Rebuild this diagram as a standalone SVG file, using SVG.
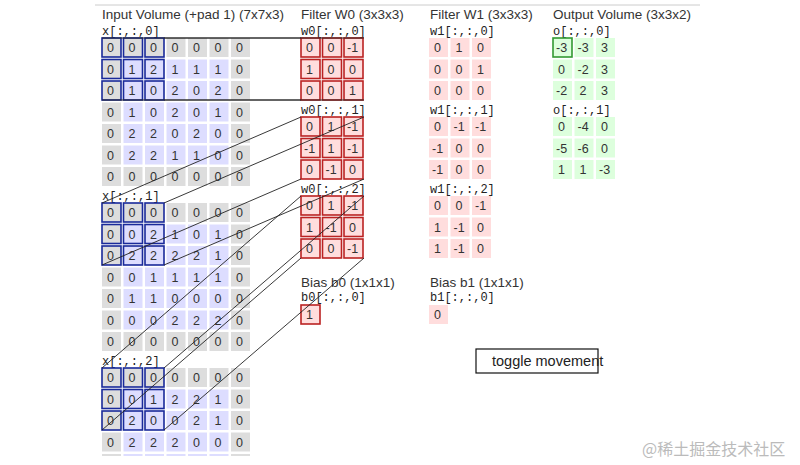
<svg xmlns="http://www.w3.org/2000/svg" width="800" height="465" viewBox="0 0 800 465">
<style>
text{font-family:"Liberation Sans",Arial,sans-serif;fill:#333}
.t{font-size:13.5px}
.n{font-size:12.5px}
.m{font-family:"Liberation Mono","Courier New",monospace;font-size:12px;fill:#222}
.g{fill:#ddd}.b{fill:#ddf}.r{fill:#fdd}.gr{fill:#dfd}
.wb{fill:none;stroke:#1a2a9a;stroke-width:1.6}
.wr{fill:none;stroke:#b22;stroke-width:1.6}
.wg{fill:none;stroke:#393;stroke-width:1.6}
.ln{stroke:#222;stroke-width:0.9;fill:none}
</style>
<rect width="800" height="465" fill="#fff"/>
<line x1="95" y1="5" x2="700" y2="5" stroke="#ccc" stroke-width="1"/>
<text class="t" x="102" y="19">Input Volume (+pad 1) (7x7x3)</text>
<text class="t" x="301" y="19">Filter W0 (3x3x3)</text>
<text class="t" x="430" y="19">Filter W1 (3x3x3)</text>
<text class="t" x="553" y="19">Output Volume (3x3x2)</text>

<g id="x0" transform="translate(102,38)">
<text class="m" x="0" y="-3">x[:,:,0]</text>
<g>
<rect class="g" x="0" y="0" width="19" height="19"/><rect class="g" x="21.5" y="0" width="19" height="19"/><rect class="g" x="43" y="0" width="19" height="19"/><rect class="g" x="64.5" y="0" width="19" height="19"/><rect class="g" x="86" y="0" width="19" height="19"/><rect class="g" x="107.5" y="0" width="19" height="19"/><rect class="g" x="129" y="0" width="19" height="19"/>
<rect class="g" x="0" y="21.5" width="19" height="19"/><rect class="b" x="21.5" y="21.5" width="19" height="19"/><rect class="b" x="43" y="21.5" width="19" height="19"/><rect class="b" x="64.5" y="21.5" width="19" height="19"/><rect class="b" x="86" y="21.5" width="19" height="19"/><rect class="b" x="107.5" y="21.5" width="19" height="19"/><rect class="g" x="129" y="21.5" width="19" height="19"/>
<rect class="g" x="0" y="43" width="19" height="19"/><rect class="b" x="21.5" y="43" width="19" height="19"/><rect class="b" x="43" y="43" width="19" height="19"/><rect class="b" x="64.5" y="43" width="19" height="19"/><rect class="b" x="86" y="43" width="19" height="19"/><rect class="b" x="107.5" y="43" width="19" height="19"/><rect class="g" x="129" y="43" width="19" height="19"/>
<rect class="g" x="0" y="64.5" width="19" height="19"/><rect class="b" x="21.5" y="64.5" width="19" height="19"/><rect class="b" x="43" y="64.5" width="19" height="19"/><rect class="b" x="64.5" y="64.5" width="19" height="19"/><rect class="b" x="86" y="64.5" width="19" height="19"/><rect class="b" x="107.5" y="64.5" width="19" height="19"/><rect class="g" x="129" y="64.5" width="19" height="19"/>
<rect class="g" x="0" y="86" width="19" height="19"/><rect class="b" x="21.5" y="86" width="19" height="19"/><rect class="b" x="43" y="86" width="19" height="19"/><rect class="b" x="64.5" y="86" width="19" height="19"/><rect class="b" x="86" y="86" width="19" height="19"/><rect class="b" x="107.5" y="86" width="19" height="19"/><rect class="g" x="129" y="86" width="19" height="19"/>
<rect class="g" x="0" y="107.5" width="19" height="19"/><rect class="b" x="21.5" y="107.5" width="19" height="19"/><rect class="b" x="43" y="107.5" width="19" height="19"/><rect class="b" x="64.5" y="107.5" width="19" height="19"/><rect class="b" x="86" y="107.5" width="19" height="19"/><rect class="b" x="107.5" y="107.5" width="19" height="19"/><rect class="g" x="129" y="107.5" width="19" height="19"/>
<rect class="g" x="0" y="129" width="19" height="19"/><rect class="g" x="21.5" y="129" width="19" height="19"/><rect class="g" x="43" y="129" width="19" height="19"/><rect class="g" x="64.5" y="129" width="19" height="19"/><rect class="g" x="86" y="129" width="19" height="19"/><rect class="g" x="107.5" y="129" width="19" height="19"/><rect class="g" x="129" y="129" width="19" height="19"/>
</g>
<text class="n" x="5" y="14">0</text><text class="n" x="26.5" y="14">0</text><text class="n" x="48" y="14">0</text><text class="n" x="69.5" y="14">0</text><text class="n" x="91" y="14">0</text><text class="n" x="112.5" y="14">0</text><text class="n" x="134" y="14">0</text>
<text class="n" x="5" y="35.5">0</text><text class="n" x="26.5" y="35.5">1</text><text class="n" x="48" y="35.5">2</text><text class="n" x="69.5" y="35.5">1</text><text class="n" x="91" y="35.5">1</text><text class="n" x="112.5" y="35.5">1</text><text class="n" x="134" y="35.5">0</text>
<text class="n" x="5" y="57">0</text><text class="n" x="26.5" y="57">1</text><text class="n" x="48" y="57">0</text><text class="n" x="69.5" y="57">2</text><text class="n" x="91" y="57">0</text><text class="n" x="112.5" y="57">2</text><text class="n" x="134" y="57">0</text>
<text class="n" x="5" y="78.5">0</text><text class="n" x="26.5" y="78.5">1</text><text class="n" x="48" y="78.5">0</text><text class="n" x="69.5" y="78.5">2</text><text class="n" x="91" y="78.5">0</text><text class="n" x="112.5" y="78.5">1</text><text class="n" x="134" y="78.5">0</text>
<text class="n" x="5" y="100">0</text><text class="n" x="26.5" y="100">2</text><text class="n" x="48" y="100">2</text><text class="n" x="69.5" y="100">0</text><text class="n" x="91" y="100">2</text><text class="n" x="112.5" y="100">0</text><text class="n" x="134" y="100">0</text>
<text class="n" x="5" y="121.5">0</text><text class="n" x="26.5" y="121.5">2</text><text class="n" x="48" y="121.5">2</text><text class="n" x="69.5" y="121.5">1</text><text class="n" x="91" y="121.5">1</text><text class="n" x="112.5" y="121.5">0</text><text class="n" x="134" y="121.5">0</text>
<text class="n" x="5" y="143">0</text><text class="n" x="26.5" y="143">0</text><text class="n" x="48" y="143">0</text><text class="n" x="69.5" y="143">0</text><text class="n" x="91" y="143">0</text><text class="n" x="112.5" y="143">0</text><text class="n" x="134" y="143">0</text>
<g class="wb"><rect x="0" y="0" width="19" height="19"/><rect x="21.5" y="0" width="19" height="19"/><rect x="43" y="0" width="19" height="19"/><rect x="0" y="21.5" width="19" height="19"/><rect x="21.5" y="21.5" width="19" height="19"/><rect x="43" y="21.5" width="19" height="19"/><rect x="0" y="43" width="19" height="19"/><rect x="21.5" y="43" width="19" height="19"/><rect x="43" y="43" width="19" height="19"/></g>
</g>

<g id="x1" transform="translate(102,203)">
<text class="m" x="0" y="-3">x[:,:,1]</text>
<g>
<rect class="g" x="0" y="0" width="19" height="19"/><rect class="g" x="21.5" y="0" width="19" height="19"/><rect class="g" x="43" y="0" width="19" height="19"/><rect class="g" x="64.5" y="0" width="19" height="19"/><rect class="g" x="86" y="0" width="19" height="19"/><rect class="g" x="107.5" y="0" width="19" height="19"/><rect class="g" x="129" y="0" width="19" height="19"/>
<rect class="g" x="0" y="21.5" width="19" height="19"/><rect class="b" x="21.5" y="21.5" width="19" height="19"/><rect class="b" x="43" y="21.5" width="19" height="19"/><rect class="b" x="64.5" y="21.5" width="19" height="19"/><rect class="b" x="86" y="21.5" width="19" height="19"/><rect class="b" x="107.5" y="21.5" width="19" height="19"/><rect class="g" x="129" y="21.5" width="19" height="19"/>
<rect class="g" x="0" y="43" width="19" height="19"/><rect class="b" x="21.5" y="43" width="19" height="19"/><rect class="b" x="43" y="43" width="19" height="19"/><rect class="b" x="64.5" y="43" width="19" height="19"/><rect class="b" x="86" y="43" width="19" height="19"/><rect class="b" x="107.5" y="43" width="19" height="19"/><rect class="g" x="129" y="43" width="19" height="19"/>
<rect class="g" x="0" y="64.5" width="19" height="19"/><rect class="b" x="21.5" y="64.5" width="19" height="19"/><rect class="b" x="43" y="64.5" width="19" height="19"/><rect class="b" x="64.5" y="64.5" width="19" height="19"/><rect class="b" x="86" y="64.5" width="19" height="19"/><rect class="b" x="107.5" y="64.5" width="19" height="19"/><rect class="g" x="129" y="64.5" width="19" height="19"/>
<rect class="g" x="0" y="86" width="19" height="19"/><rect class="b" x="21.5" y="86" width="19" height="19"/><rect class="b" x="43" y="86" width="19" height="19"/><rect class="b" x="64.5" y="86" width="19" height="19"/><rect class="b" x="86" y="86" width="19" height="19"/><rect class="b" x="107.5" y="86" width="19" height="19"/><rect class="g" x="129" y="86" width="19" height="19"/>
<rect class="g" x="0" y="107.5" width="19" height="19"/><rect class="b" x="21.5" y="107.5" width="19" height="19"/><rect class="b" x="43" y="107.5" width="19" height="19"/><rect class="b" x="64.5" y="107.5" width="19" height="19"/><rect class="b" x="86" y="107.5" width="19" height="19"/><rect class="b" x="107.5" y="107.5" width="19" height="19"/><rect class="g" x="129" y="107.5" width="19" height="19"/>
<rect class="g" x="0" y="129" width="19" height="19"/><rect class="g" x="21.5" y="129" width="19" height="19"/><rect class="g" x="43" y="129" width="19" height="19"/><rect class="g" x="64.5" y="129" width="19" height="19"/><rect class="g" x="86" y="129" width="19" height="19"/><rect class="g" x="107.5" y="129" width="19" height="19"/><rect class="g" x="129" y="129" width="19" height="19"/>
</g>
<text class="n" x="5" y="14">0</text><text class="n" x="26.5" y="14">0</text><text class="n" x="48" y="14">0</text><text class="n" x="69.5" y="14">0</text><text class="n" x="91" y="14">0</text><text class="n" x="112.5" y="14">0</text><text class="n" x="134" y="14">0</text>
<text class="n" x="5" y="35.5">0</text><text class="n" x="26.5" y="35.5">0</text><text class="n" x="48" y="35.5">2</text><text class="n" x="69.5" y="35.5">1</text><text class="n" x="91" y="35.5">0</text><text class="n" x="112.5" y="35.5">1</text><text class="n" x="134" y="35.5">0</text>
<text class="n" x="5" y="57">0</text><text class="n" x="26.5" y="57">2</text><text class="n" x="48" y="57">2</text><text class="n" x="69.5" y="57">2</text><text class="n" x="91" y="57">2</text><text class="n" x="112.5" y="57">1</text><text class="n" x="134" y="57">0</text>
<text class="n" x="5" y="78.5">0</text><text class="n" x="26.5" y="78.5">0</text><text class="n" x="48" y="78.5">1</text><text class="n" x="69.5" y="78.5">1</text><text class="n" x="91" y="78.5">1</text><text class="n" x="112.5" y="78.5">1</text><text class="n" x="134" y="78.5">0</text>
<text class="n" x="5" y="100">0</text><text class="n" x="26.5" y="100">1</text><text class="n" x="48" y="100">1</text><text class="n" x="69.5" y="100">0</text><text class="n" x="91" y="100">0</text><text class="n" x="112.5" y="100">0</text><text class="n" x="134" y="100">0</text>
<text class="n" x="5" y="121.5">0</text><text class="n" x="26.5" y="121.5">0</text><text class="n" x="48" y="121.5">0</text><text class="n" x="69.5" y="121.5">2</text><text class="n" x="91" y="121.5">2</text><text class="n" x="112.5" y="121.5">2</text><text class="n" x="134" y="121.5">0</text>
<text class="n" x="5" y="143">0</text><text class="n" x="26.5" y="143">0</text><text class="n" x="48" y="143">0</text><text class="n" x="69.5" y="143">0</text><text class="n" x="91" y="143">0</text><text class="n" x="112.5" y="143">0</text><text class="n" x="134" y="143">0</text>
<g class="wb"><rect x="0" y="0" width="19" height="19"/><rect x="21.5" y="0" width="19" height="19"/><rect x="43" y="0" width="19" height="19"/><rect x="0" y="21.5" width="19" height="19"/><rect x="21.5" y="21.5" width="19" height="19"/><rect x="43" y="21.5" width="19" height="19"/><rect x="0" y="43" width="19" height="19"/><rect x="21.5" y="43" width="19" height="19"/><rect x="43" y="43" width="19" height="19"/></g>
</g>

<g id="x2" transform="translate(102,368)">
<text class="m" x="0" y="-3">x[:,:,2]</text>
<g>
<rect class="g" x="0" y="0" width="19" height="19"/><rect class="g" x="21.5" y="0" width="19" height="19"/><rect class="g" x="43" y="0" width="19" height="19"/><rect class="g" x="64.5" y="0" width="19" height="19"/><rect class="g" x="86" y="0" width="19" height="19"/><rect class="g" x="107.5" y="0" width="19" height="19"/><rect class="g" x="129" y="0" width="19" height="19"/>
<rect class="g" x="0" y="21.5" width="19" height="19"/><rect class="b" x="21.5" y="21.5" width="19" height="19"/><rect class="b" x="43" y="21.5" width="19" height="19"/><rect class="b" x="64.5" y="21.5" width="19" height="19"/><rect class="b" x="86" y="21.5" width="19" height="19"/><rect class="b" x="107.5" y="21.5" width="19" height="19"/><rect class="g" x="129" y="21.5" width="19" height="19"/>
<rect class="g" x="0" y="43" width="19" height="19"/><rect class="b" x="21.5" y="43" width="19" height="19"/><rect class="b" x="43" y="43" width="19" height="19"/><rect class="b" x="64.5" y="43" width="19" height="19"/><rect class="b" x="86" y="43" width="19" height="19"/><rect class="b" x="107.5" y="43" width="19" height="19"/><rect class="g" x="129" y="43" width="19" height="19"/>
<rect class="g" x="0" y="64.5" width="19" height="19"/><rect class="b" x="21.5" y="64.5" width="19" height="19"/><rect class="b" x="43" y="64.5" width="19" height="19"/><rect class="b" x="64.5" y="64.5" width="19" height="19"/><rect class="b" x="86" y="64.5" width="19" height="19"/><rect class="b" x="107.5" y="64.5" width="19" height="19"/><rect class="g" x="129" y="64.5" width="19" height="19"/>
<rect class="g" x="0" y="86" width="19" height="2"/><rect class="b" x="21.5" y="86" width="19" height="2"/><rect class="b" x="43" y="86" width="19" height="2"/><rect class="b" x="64.5" y="86" width="19" height="2"/><rect class="b" x="86" y="86" width="19" height="2"/><rect class="b" x="107.5" y="86" width="19" height="2"/><rect class="g" x="129" y="86" width="19" height="2"/>
</g>
<text class="n" x="5" y="14">0</text><text class="n" x="26.5" y="14">0</text><text class="n" x="48" y="14">0</text><text class="n" x="69.5" y="14">0</text><text class="n" x="91" y="14">0</text><text class="n" x="112.5" y="14">0</text><text class="n" x="134" y="14">0</text>
<text class="n" x="5" y="35.5">0</text><text class="n" x="26.5" y="35.5">0</text><text class="n" x="48" y="35.5">1</text><text class="n" x="69.5" y="35.5">2</text><text class="n" x="91" y="35.5">2</text><text class="n" x="112.5" y="35.5">1</text><text class="n" x="134" y="35.5">0</text>
<text class="n" x="5" y="57">0</text><text class="n" x="26.5" y="57">2</text><text class="n" x="48" y="57">0</text><text class="n" x="69.5" y="57">0</text><text class="n" x="91" y="57">2</text><text class="n" x="112.5" y="57">1</text><text class="n" x="134" y="57">0</text>
<text class="n" x="5" y="78.5">0</text><text class="n" x="26.5" y="78.5">2</text><text class="n" x="48" y="78.5">2</text><text class="n" x="69.5" y="78.5">2</text><text class="n" x="91" y="78.5">0</text><text class="n" x="112.5" y="78.5">0</text><text class="n" x="134" y="78.5">0</text>
<g class="wb"><rect x="0" y="0" width="19" height="19"/><rect x="21.5" y="0" width="19" height="19"/><rect x="43" y="0" width="19" height="19"/><rect x="0" y="21.5" width="19" height="19"/><rect x="21.5" y="21.5" width="19" height="19"/><rect x="43" y="21.5" width="19" height="19"/><rect x="0" y="43" width="19" height="19"/><rect x="21.5" y="43" width="19" height="19"/><rect x="43" y="43" width="19" height="19"/></g>
</g>

<g id="w0">
<text class="m" x="301" y="35">w0[:,:,0]</text>
<text class="m" x="301" y="114">w0[:,:,1]</text>
<text class="m" x="301" y="193">w0[:,:,2]</text>
<g transform="translate(301,38)">
<rect class="r" x="0" y="0" width="19" height="19"/><rect class="r" x="21.5" y="0" width="19" height="19"/><rect class="r" x="43" y="0" width="19" height="19"/><rect class="r" x="0" y="21.5" width="19" height="19"/><rect class="r" x="21.5" y="21.5" width="19" height="19"/><rect class="r" x="43" y="21.5" width="19" height="19"/><rect class="r" x="0" y="43" width="19" height="19"/><rect class="r" x="21.5" y="43" width="19" height="19"/><rect class="r" x="43" y="43" width="19" height="19"/>
<g class="wr"><rect x="0" y="0" width="19" height="19"/><rect x="21.5" y="0" width="19" height="19"/><rect x="43" y="0" width="19" height="19"/><rect x="0" y="21.5" width="19" height="19"/><rect x="21.5" y="21.5" width="19" height="19"/><rect x="43" y="21.5" width="19" height="19"/><rect x="0" y="43" width="19" height="19"/><rect x="21.5" y="43" width="19" height="19"/><rect x="43" y="43" width="19" height="19"/></g>
<text class="n" x="5" y="14">0</text><text class="n" x="26.5" y="14">0</text><text class="n" x="46" y="14">-1</text>
<text class="n" x="5" y="35.5">1</text><text class="n" x="26.5" y="35.5">0</text><text class="n" x="48" y="35.5">0</text>
<text class="n" x="5" y="57">0</text><text class="n" x="26.5" y="57">0</text><text class="n" x="48" y="57">1</text>
</g>
<g transform="translate(301,117)">
<rect class="r" x="0" y="0" width="19" height="19"/><rect class="r" x="21.5" y="0" width="19" height="19"/><rect class="r" x="43" y="0" width="19" height="19"/><rect class="r" x="0" y="21.5" width="19" height="19"/><rect class="r" x="21.5" y="21.5" width="19" height="19"/><rect class="r" x="43" y="21.5" width="19" height="19"/><rect class="r" x="0" y="43" width="19" height="19"/><rect class="r" x="21.5" y="43" width="19" height="19"/><rect class="r" x="43" y="43" width="19" height="19"/>
<g class="wr"><rect x="0" y="0" width="19" height="19"/><rect x="21.5" y="0" width="19" height="19"/><rect x="43" y="0" width="19" height="19"/><rect x="0" y="21.5" width="19" height="19"/><rect x="21.5" y="21.5" width="19" height="19"/><rect x="43" y="21.5" width="19" height="19"/><rect x="0" y="43" width="19" height="19"/><rect x="21.5" y="43" width="19" height="19"/><rect x="43" y="43" width="19" height="19"/></g>
<text class="n" x="5" y="14">0</text><text class="n" x="26.5" y="14">1</text><text class="n" x="46" y="14">-1</text>
<text class="n" x="3" y="35.5">-1</text><text class="n" x="26.5" y="35.5">1</text><text class="n" x="46" y="35.5">-1</text>
<text class="n" x="5" y="57">0</text><text class="n" x="24.5" y="57">-1</text><text class="n" x="48" y="57">0</text>
</g>
<g transform="translate(301,196)">
<rect class="r" x="0" y="0" width="19" height="19"/><rect class="r" x="21.5" y="0" width="19" height="19"/><rect class="r" x="43" y="0" width="19" height="19"/><rect class="r" x="0" y="21.5" width="19" height="19"/><rect class="r" x="21.5" y="21.5" width="19" height="19"/><rect class="r" x="43" y="21.5" width="19" height="19"/><rect class="r" x="0" y="43" width="19" height="19"/><rect class="r" x="21.5" y="43" width="19" height="19"/><rect class="r" x="43" y="43" width="19" height="19"/>
<g class="wr"><rect x="0" y="0" width="19" height="19"/><rect x="21.5" y="0" width="19" height="19"/><rect x="43" y="0" width="19" height="19"/><rect x="0" y="21.5" width="19" height="19"/><rect x="21.5" y="21.5" width="19" height="19"/><rect x="43" y="21.5" width="19" height="19"/><rect x="0" y="43" width="19" height="19"/><rect x="21.5" y="43" width="19" height="19"/><rect x="43" y="43" width="19" height="19"/></g>
<text class="n" x="5" y="14">0</text><text class="n" x="26.5" y="14">1</text><text class="n" x="46" y="14">-1</text>
<text class="n" x="5" y="35.5">1</text><text class="n" x="24.5" y="35.5">-1</text><text class="n" x="48" y="35.5">0</text>
<text class="n" x="5" y="57">0</text><text class="n" x="26.5" y="57">0</text><text class="n" x="46" y="57">-1</text>
</g>
</g>

<g id="b0">
<text class="t" x="301" y="287">Bias b0 (1x1x1)</text>
<text class="m" x="301" y="301">b0[:,:,0]</text>
<rect class="r" x="301" y="305" width="19" height="19"/>
<rect class="wr" x="301" y="305" width="19" height="19"/>
<text class="n" x="306" y="319">1</text>
</g>

<g id="w1">
<text class="m" x="430" y="35">w1[:,:,0]</text>
<text class="m" x="430" y="114">w1[:,:,1]</text>
<text class="m" x="430" y="193">w1[:,:,2]</text>
<g transform="translate(429,38)">
<rect class="r" x="0" y="0" width="19" height="19"/><rect class="r" x="21.5" y="0" width="19" height="19"/><rect class="r" x="43" y="0" width="19" height="19"/><rect class="r" x="0" y="21.5" width="19" height="19"/><rect class="r" x="21.5" y="21.5" width="19" height="19"/><rect class="r" x="43" y="21.5" width="19" height="19"/><rect class="r" x="0" y="43" width="19" height="19"/><rect class="r" x="21.5" y="43" width="19" height="19"/><rect class="r" x="43" y="43" width="19" height="19"/>
<text class="n" x="5" y="14">0</text><text class="n" x="26.5" y="14">1</text><text class="n" x="48" y="14">0</text>
<text class="n" x="5" y="35.5">0</text><text class="n" x="26.5" y="35.5">0</text><text class="n" x="48" y="35.5">1</text>
<text class="n" x="5" y="57">0</text><text class="n" x="26.5" y="57">0</text><text class="n" x="48" y="57">0</text>
</g>
<g transform="translate(429,117)">
<rect class="r" x="0" y="0" width="19" height="19"/><rect class="r" x="21.5" y="0" width="19" height="19"/><rect class="r" x="43" y="0" width="19" height="19"/><rect class="r" x="0" y="21.5" width="19" height="19"/><rect class="r" x="21.5" y="21.5" width="19" height="19"/><rect class="r" x="43" y="21.5" width="19" height="19"/><rect class="r" x="0" y="43" width="19" height="19"/><rect class="r" x="21.5" y="43" width="19" height="19"/><rect class="r" x="43" y="43" width="19" height="19"/>
<text class="n" x="5" y="14">0</text><text class="n" x="24.5" y="14">-1</text><text class="n" x="46" y="14">-1</text>
<text class="n" x="3" y="35.5">-1</text><text class="n" x="26.5" y="35.5">0</text><text class="n" x="48" y="35.5">0</text>
<text class="n" x="3" y="57">-1</text><text class="n" x="26.5" y="57">0</text><text class="n" x="48" y="57">0</text>
</g>
<g transform="translate(429,196)">
<rect class="r" x="0" y="0" width="19" height="19"/><rect class="r" x="21.5" y="0" width="19" height="19"/><rect class="r" x="43" y="0" width="19" height="19"/><rect class="r" x="0" y="21.5" width="19" height="19"/><rect class="r" x="21.5" y="21.5" width="19" height="19"/><rect class="r" x="43" y="21.5" width="19" height="19"/><rect class="r" x="0" y="43" width="19" height="19"/><rect class="r" x="21.5" y="43" width="19" height="19"/><rect class="r" x="43" y="43" width="19" height="19"/>
<text class="n" x="5" y="14">0</text><text class="n" x="26.5" y="14">0</text><text class="n" x="46" y="14">-1</text>
<text class="n" x="5" y="35.5">1</text><text class="n" x="24.5" y="35.5">-1</text><text class="n" x="48" y="35.5">0</text>
<text class="n" x="5" y="57">1</text><text class="n" x="24.5" y="57">-1</text><text class="n" x="48" y="57">0</text>
</g>
</g>

<g id="b1">
<text class="t" x="430" y="287">Bias b1 (1x1x1)</text>
<text class="m" x="430" y="301">b1[:,:,0]</text>
<rect class="r" x="429" y="305" width="19" height="19"/>
<text class="n" x="434" y="319">0</text>
</g>

<g id="out">
<text class="m" x="553" y="35">o[:,:,0]</text>
<text class="m" x="553" y="114">o[:,:,1]</text>
<g transform="translate(553,38)">
<rect class="gr" x="0" y="0" width="19" height="19"/><rect class="gr" x="21.5" y="0" width="19" height="19"/><rect class="gr" x="43" y="0" width="19" height="19"/><rect class="gr" x="0" y="21.5" width="19" height="19"/><rect class="gr" x="21.5" y="21.5" width="19" height="19"/><rect class="gr" x="43" y="21.5" width="19" height="19"/><rect class="gr" x="0" y="43" width="19" height="19"/><rect class="gr" x="21.5" y="43" width="19" height="19"/><rect class="gr" x="43" y="43" width="19" height="19"/>
<rect class="wg" x="0" y="0" width="19" height="19"/>
<text class="n" x="3" y="14">-3</text><text class="n" x="24.5" y="14">-3</text><text class="n" x="48" y="14">3</text>
<text class="n" x="5" y="35.5">0</text><text class="n" x="24.5" y="35.5">-2</text><text class="n" x="48" y="35.5">3</text>
<text class="n" x="3" y="57">-2</text><text class="n" x="26.5" y="57">2</text><text class="n" x="48" y="57">3</text>
</g>
<g transform="translate(553,117)">
<rect class="gr" x="0" y="0" width="19" height="19"/><rect class="gr" x="21.5" y="0" width="19" height="19"/><rect class="gr" x="43" y="0" width="19" height="19"/><rect class="gr" x="0" y="21.5" width="19" height="19"/><rect class="gr" x="21.5" y="21.5" width="19" height="19"/><rect class="gr" x="43" y="21.5" width="19" height="19"/><rect class="gr" x="0" y="43" width="19" height="19"/><rect class="gr" x="21.5" y="43" width="19" height="19"/><rect class="gr" x="43" y="43" width="19" height="19"/>
<text class="n" x="5" y="14">0</text><text class="n" x="24.5" y="14">-4</text><text class="n" x="48" y="14">0</text>
<text class="n" x="3" y="35.5">-5</text><text class="n" x="24.5" y="35.5">-6</text><text class="n" x="48" y="35.5">0</text>
<text class="n" x="5" y="57">1</text><text class="n" x="26.5" y="57">1</text><text class="n" x="46" y="57">-3</text>
</g>
</g>

<g id="connectors" class="ln">
<line x1="102" y1="38" x2="301" y2="38"/><line x1="164" y1="38" x2="364" y2="38"/>
<line x1="102" y1="100" x2="301" y2="100"/><line x1="164" y1="100" x2="364" y2="100"/>
<line x1="102" y1="203" x2="301" y2="117"/><line x1="164" y1="203" x2="364" y2="117"/>
<line x1="102" y1="265" x2="301" y2="179"/><line x1="164" y1="265" x2="364" y2="179"/>
<line x1="102" y1="368" x2="301" y2="196"/><line x1="164" y1="368" x2="364" y2="196"/>
<line x1="102" y1="430" x2="301" y2="258"/><line x1="164" y1="430" x2="364" y2="258"/>
</g>

<g id="toggle">
<rect x="476" y="349" width="122" height="24" fill="#fff" stroke="#111" stroke-width="1.2"/>
<text x="492" y="366" style="font-size:14.5px;fill:#222">toggle movement</text>
</g>
<text x="642" y="455" style="font-family:'Noto Sans CJK SC',sans-serif;font-size:16px;fill:#bbb">@稀土掘金技术社区</text>
</svg>
